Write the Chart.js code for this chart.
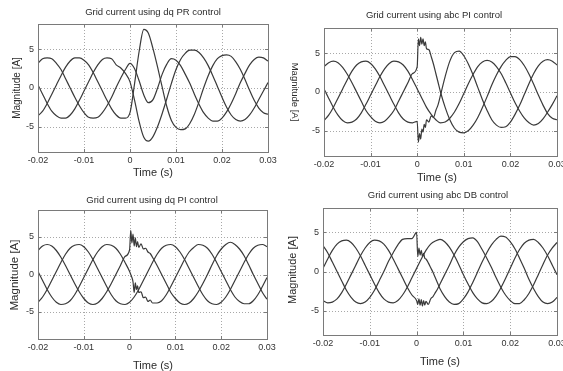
<!DOCTYPE html>
<html>
<head>
<meta charset="utf-8">
<script src="https://cdn.jsdelivr.net/npm/chart.js@4.4.1/dist/chart.umd.min.js"></script>
<style>
html,body{margin:0;padding:0;background:#ffffff;}
#wrap{position:relative;width:563px;height:371px;overflow:hidden;background:#ffffff;}
#wrap canvas{position:absolute;left:0;top:0;}
</style>
</head>
<body>
<div id="wrap">
<canvas id="c1" width="563" height="371"></canvas>
<canvas id="c2" width="563" height="371"></canvas>
<canvas id="c3" width="563" height="371"></canvas>
<canvas id="c4" width="563" height="371"></canvas>
</div>
<script>
// ---------------- DATA (time in ms) ----------------
const titles = [
  'Grid current using dq PR control',
  'Grid current using abc PI control',
  'Grid current using dq PI control',
  'Grid current using abc DB control'
];
const xAxisTitle = 'Time (s)';
const yAxisTitle = 'Magnitude [A]';
const xTickValues = [-20, -10, 0, 10, 20, 30];
const xTickLabels = ['-0.02', '-0.01', '0', '0.01', '0.02', '0.03'];
const yTickValues = [-5, 0, 5];
const yTickLabels = ['-5', '0', '5'];

const timeCoarse = [-20,-19,-18,-17,-16,-15,-14,-13,-12,-11,-10,-9,-8,-7,-6,-5,-4,-3,-2,-1,
  0,1,2,3,4,5,6,7,8,9,10,11,12,13,14,15,16,17,18,19,20,21,22,23,24,25,26,27,28,29,30];
const timeFine = [-20,-19,-18,-17,-16,-15,-14,-13,-12,-11,-10,-9,-8,-7,-6,-5,-4,-3,-2,-1,
  0,0.25,0.5,0.75,1,1.25,1.5,1.75,2,2.5,3,3.5,4,4.5,
  5,6,7,8,9,10,11,12,13,14,15,16,17,18,19,20,21,22,23,24,25,26,27,28,29,30];

// Panel 1: dq PR control (timeCoarse)
const p1A = [3.2,3.8,3.9,3.8,3.2,2.4,1.2,0.0,-1.2,-2.3,-3.2,-3.8,-3.9,-3.8,-3.2,-2.3,-1.2,0.1,1.3,2.4,
  3.2,2.5,0.9,-0.9,-1.9,-1.5,0.0,1.8,3.1,3.8,3.6,2.9,1.8,0.6,-0.8,-2.1,-3.2,-3.9,-4.3,-4.3,-3.9,-3.1,-2.0,-0.7,0.7,1.9,3.0,3.7,4.0,3.9,3.5];
const p1B = [-3.6,-3.0,-2.0,-0.8,0.4,1.6,2.7,3.5,3.9,3.9,3.6,3.0,2.0,0.8,-0.4,-1.6,-2.7,-3.5,-3.9,-3.9,
  -3.2,0.6,4.8,7.6,7.1,5.1,2.7,0.1,-2.4,-4.2,-5.1,-5.4,-5.3,-4.6,-3.4,-1.8,0.0,1.6,2.9,3.8,4.2,4.3,4.1,3.4,2.4,1.1,-0.3,-1.6,-2.6,-3.2,-3.4];
const p1C = [0.4,-0.8,-2.0,-3.0,-3.6,-3.9,-3.9,-3.5,-2.7,-1.6,-0.4,0.8,2.0,3.0,3.7,3.9,3.8,3.0,2.6,1.9,
  0.8,-1.6,-4.4,-6.4,-6.9,-6.3,-5.0,-3.3,-1.4,0.6,2.4,3.7,4.5,4.9,4.9,4.6,3.9,2.9,1.6,0.2,-1.2,-2.5,-3.5,-4.1,-4.3,-4.1,-3.5,-2.6,-1.5,-0.4,0.7];

// Panel 2: abc PI control (timeFine)
const p2A = [3.3,3.8,4.0,3.8,3.2,2.3,1.2,0.0,-1.2,-2.4,-3.2,-3.8,-4.0,-3.8,-3.2,-2.4,-1.2,0.0,1.2,2.4,
  3.3,6.9,6.0,7.1,6.2,6.9,6.0,6.5,5.6,5.5,4.6,3.6,2.4,1.2,
  0.0,-2.0,-3.6,-4.7,-5.2,-5.3,-5.0,-4.3,-3.3,-2.0,-0.6,0.9,2.2,3.3,4.1,4.6,4.6,4.2,3.4,2.3,1.0,-0.4,-1.7,-2.8,-3.4,-3.6];
const p2B = [-3.7,-3.0,-2.0,-0.8,0.4,1.6,2.7,3.5,3.9,4.0,3.7,3.0,2.0,0.8,-0.4,-1.6,-2.7,-3.5,-3.9,-4.0,
  -3.8,-6.5,-5.4,-6.1,-4.8,-5.2,-4.2,-4.6,-3.6,-3.9,-3.1,-3.3,-2.4,-1.6,
  -0.4,2.0,4.0,5.1,5.3,4.7,3.6,2.2,0.6,-1.0,-2.4,-3.6,-4.3,-4.6,-4.5,-3.9,-2.9,-1.7,-0.3,1.1,2.4,3.4,4.0,4.2,4.0,3.5];
const p2C = [0.4,-0.8,-2.0,-3.0,-3.7,-4.0,-3.9,-3.5,-2.7,-1.6,-0.4,0.8,2.0,3.0,3.7,4.0,3.9,3.5,2.7,1.6,
  0.4,null,null,null,-0.8,null,null,null,-2.0,null,-2.9,null,-3.6,null,
  -4.0,-3.9,-3.4,-2.6,-1.5,-0.2,1.1,2.3,3.3,3.9,4.1,3.9,3.3,2.4,1.2,-0.1,-1.4,-2.5,-3.4,-4.0,-4.3,-4.1,-3.5,-2.6,-1.6,-0.5];

// Panel 3: dq PI control (timeFine)
const p3A = [3.2,3.8,4.0,3.8,3.2,2.3,1.2,0.0,-1.2,-2.3,-3.2,-3.8,-4.0,-3.8,-3.2,-2.3,-1.2,0.0,1.2,2.4,
  3.3,5.9,4.2,5.4,3.8,4.9,3.7,4.4,3.6,4.1,3.4,3.5,3.0,2.8,
  2.3,1.2,0.0,-1.2,-2.4,-3.2,-3.8,-4.0,-3.8,-3.2,-2.3,-1.2,0.0,1.3,2.5,3.4,4.0,4.3,4.0,3.4,2.5,1.3,0.0,-1.2,-2.4,-3.3];
const p3B = [-3.7,-3.0,-2.0,-0.8,0.4,1.6,2.7,3.5,3.9,4.0,3.7,3.0,2.0,0.8,-0.4,-1.6,-2.7,-3.5,-3.9,-4.0,
  -3.7,null,null,null,-3.0,null,null,null,-2.0,null,-0.8,null,0.4,null,
  1.6,2.7,3.5,3.9,4.0,3.7,3.0,2.0,0.8,-0.4,-1.6,-2.7,-3.5,-3.9,-4.0,-3.7,-3.0,-2.0,-0.8,0.4,1.6,2.7,3.5,3.9,4.0,3.7];
const p3C = [0.4,-0.8,-2.0,-3.0,-3.7,-4.0,-3.9,-3.5,-2.7,-1.6,-0.4,0.8,2.0,3.0,3.7,4.0,3.9,3.5,2.7,1.6,
  0.4,0.0,-0.4,-1.0,-2.4,-1.1,-2.0,-1.5,-2.4,-2.3,-3.1,-3.0,-3.6,-3.4,
  -3.8,-3.8,-3.5,-2.7,-1.6,-0.4,0.8,2.0,3.0,3.6,4.0,3.9,3.5,2.7,1.6,0.4,-0.8,-2.0,-3.0,-3.6,-3.9,-3.9,-3.5,-2.7,-1.6,-0.4];

// Panel 4: abc DB control (timeFine)
const p4A = [0.4,1.6,2.7,3.5,3.9,4.0,3.7,3.0,2.0,0.8,-0.4,-1.6,-2.7,-3.5,-3.9,-4.0,-3.7,-3.0,-2.0,-0.8,
  0.4,null,null,null,1.6,null,null,null,2.7,null,3.5,null,3.9,null,
  4.1,3.8,3.1,2.1,0.9,-0.4,-1.6,-2.7,-3.5,-4.0,-4.1,-3.8,-3.1,-2.1,-0.9,0.4,1.7,2.8,3.6,4.0,4.1,3.7,3.0,2.0,0.8,-0.4];
const p4B = [-3.7,-4.0,-3.9,-3.5,-2.7,-1.6,-0.4,0.8,2.0,3.0,3.7,4.0,3.9,3.5,2.7,1.6,0.4,-0.8,-2.0,-3.0,
  -3.7,-4.2,-3.5,-4.3,-3.6,-4.4,-3.7,-4.3,-3.8,-4.2,-3.5,-3.2,-2.7,-2.2,
  -1.6,-0.4,0.8,2.1,3.1,3.8,4.2,4.3,3.8,2.8,1.7,0.5,-0.8,-2.0,-3.0,-3.7,-4.1,-4.1,-3.6,-2.8,-1.7,-0.4,0.9,2.1,3.0,3.7];
const p4C = [3.3,2.4,1.2,0.0,-1.2,-2.4,-3.3,-3.9,-4.1,-3.9,-3.3,-2.4,-1.2,0.0,1.3,2.4,3.4,4.1,4.2,4.2,
  5.0,1.9,3.0,2.1,2.7,1.9,2.3,1.7,1.6,1.1,0.5,-0.1,-0.8,-1.5,
  -2.2,-3.2,-3.9,-4.2,-4.1,-3.5,-2.6,-1.4,-0.1,1.2,2.4,3.4,4.1,4.5,4.4,3.8,2.9,1.7,0.4,-1.0,-2.2,-3.2,-3.9,-4.1,-3.9,-3.3];

// ---------------- LAYOUT ----------------
const W = 563, H = 371, YAXIS_W = 30, XAXIS_H = 20;
const FONT = '"Liberation Sans", Arial, Helvetica, sans-serif';
const panels = [
  {id:'c1', time:timeCoarse, series:[p1A,p1B,p1C], title:titles[0], yMin:-8.3, yMax:8.3,
   area:{l:38,t:24,r:268,b:152}, titleX:153, titleY:12, xlabX:153, xlabY:173, ylabX:17, ylabY:88, ylabRot:-1, ylabSize:10},
  {id:'c2', time:timeFine, series:[p2A,p2B,p2C], title:titles[1], yMin:-8.3, yMax:8.3,
   area:{l:324,t:28,r:557,b:156}, titleX:434, titleY:15, xlabX:437, xlabY:178, ylabX:295, ylabY:92, ylabRot:1, ylabSize:9.5},
  {id:'c3', time:timeFine, series:[p3A,p3B,p3C], title:titles[2], yMin:-8.6, yMax:8.6,
   area:{l:38,t:210,r:267,b:339}, titleX:152, titleY:200, xlabX:153, xlabY:366, ylabX:15, ylabY:275, ylabRot:-1, ylabSize:11.5},
  {id:'c4', time:timeFine, series:[p4A,p4B,p4C], title:titles[3], yMin:-8.1, yMax:8.1,
   area:{l:323,t:208,r:557,b:335}, titleX:438, titleY:195, xlabX:440, xlabY:362, ylabX:293, ylabY:270, ylabRot:-1, ylabSize:11}
];

const decorPlugin = {
  id: 'decor',
  beforeDatasetsDraw(chart, args, opts) {
    const {ctx, chartArea:a, scales:{x, y}} = chart;
    ctx.save();
    ctx.strokeStyle = '#a8a8a8';
    ctx.lineWidth = 1;
    ctx.setLineDash([1, 2]);
    xTickValues.forEach(v => {
      const px = Math.round(x.getPixelForValue(v)) + 0.5;
      if (px > a.left + 2 && px < a.right - 2) {
        ctx.beginPath(); ctx.moveTo(px, a.top); ctx.lineTo(px, a.bottom); ctx.stroke();
      }
    });
    yTickValues.forEach(v => {
      const py = Math.round(y.getPixelForValue(v)) + 0.5;
      ctx.beginPath(); ctx.moveTo(a.left, py); ctx.lineTo(a.right, py); ctx.stroke();
    });
    ctx.restore();
  },
  afterDatasetsDraw(chart, args, opts) {
    const {ctx, chartArea:a, scales:{x, y}} = chart;
    ctx.save();
    ctx.strokeStyle = '#7a7a7a';
    ctx.lineWidth = 1;
    ctx.setLineDash([]);
    ctx.strokeRect(Math.round(a.left) + 0.5, Math.round(a.top) + 0.5,
                   Math.round(a.right - a.left), Math.round(a.bottom - a.top));
    // inward tick marks
    xTickValues.forEach(v => {
      const px = Math.round(x.getPixelForValue(v)) + 0.5;
      ctx.beginPath();
      ctx.moveTo(px, a.bottom); ctx.lineTo(px, a.bottom - 3);
      ctx.moveTo(px, a.top); ctx.lineTo(px, a.top + 3);
      ctx.stroke();
    });
    yTickValues.forEach(v => {
      const py = Math.round(y.getPixelForValue(v)) + 0.5;
      ctx.beginPath();
      ctx.moveTo(a.left, py); ctx.lineTo(a.left + 3, py);
      ctx.moveTo(a.right, py); ctx.lineTo(a.right - 3, py);
      ctx.stroke();
    });
    ctx.restore();
  },
  afterDraw(chart, args, opts) {
    const p = opts.panel;
    const ctx = chart.ctx;
    ctx.save();
    ctx.fillStyle = '#2b2b2b';
    ctx.textAlign = 'center';
    ctx.textBaseline = 'middle';
    ctx.font = '9.5px ' + FONT;
    ctx.fillText(p.title, p.titleX, p.titleY);
    ctx.font = '11px ' + FONT;
    ctx.fillText(xAxisTitle, p.xlabX, p.xlabY);
    ctx.translate(p.ylabX, p.ylabY);
    ctx.rotate(p.ylabRot * Math.PI / 2);
    ctx.font = p.ylabSize + 'px ' + FONT;
    ctx.fillText(yAxisTitle, 0, 0);
    ctx.restore();
  }
};

panels.forEach(p => {
  const datasets = p.series.map(vals => ({
    data: p.time.map((t, i) => ({x: t, y: vals[i]})),
    borderColor: '#3a3a3a',
    borderWidth: 1.2,
    pointRadius: 0,
    fill: false,
    spanGaps: true,
    cubicInterpolationMode: 'monotone'
  }));
  new Chart(document.getElementById(p.id), {
    type: 'line',
    data: {datasets},
    options: {
      responsive: false,
      animation: false,
      events: [],
      layout: {padding: {left: p.area.l - YAXIS_W, top: p.area.t, right: W - p.area.r, bottom: H - p.area.b - XAXIS_H}},
      plugins: {legend: {display: false}, tooltip: {enabled: false}, title: {display: false},
                decor: {panel: p}},
      scales: {
        x: {
          type: 'linear', min: -20, max: 30,
          grid: {display: false, drawTicks: false},
          border: {display: false},
          afterBuildTicks: s => { s.ticks = xTickValues.map(v => ({value: v})); },
          afterFit: s => { s.height = XAXIS_H; s.paddingLeft = 0; s.paddingRight = 0; },
          ticks: {
            autoSkip: false, maxRotation: 0, padding: 3, color: '#333',
            font: {family: FONT, size: 9},
            callback: v => xTickLabels[xTickValues.indexOf(v)]
          }
        },
        y: {
          type: 'linear', min: p.yMin, max: p.yMax,
          grid: {display: false, drawTicks: false},
          border: {display: false},
          afterBuildTicks: s => { s.ticks = yTickValues.map(v => ({value: v})); },
          afterFit: s => { s.width = YAXIS_W; s.paddingTop = 0; s.paddingBottom = 0; },
          ticks: {
            autoSkip: false, padding: 4, color: '#333',
            font: {family: FONT, size: 9},
            callback: v => yTickLabels[yTickValues.indexOf(v)]
          }
        }
      }
    },
    plugins: [decorPlugin]
  });
});
</script>
</body>
</html>
